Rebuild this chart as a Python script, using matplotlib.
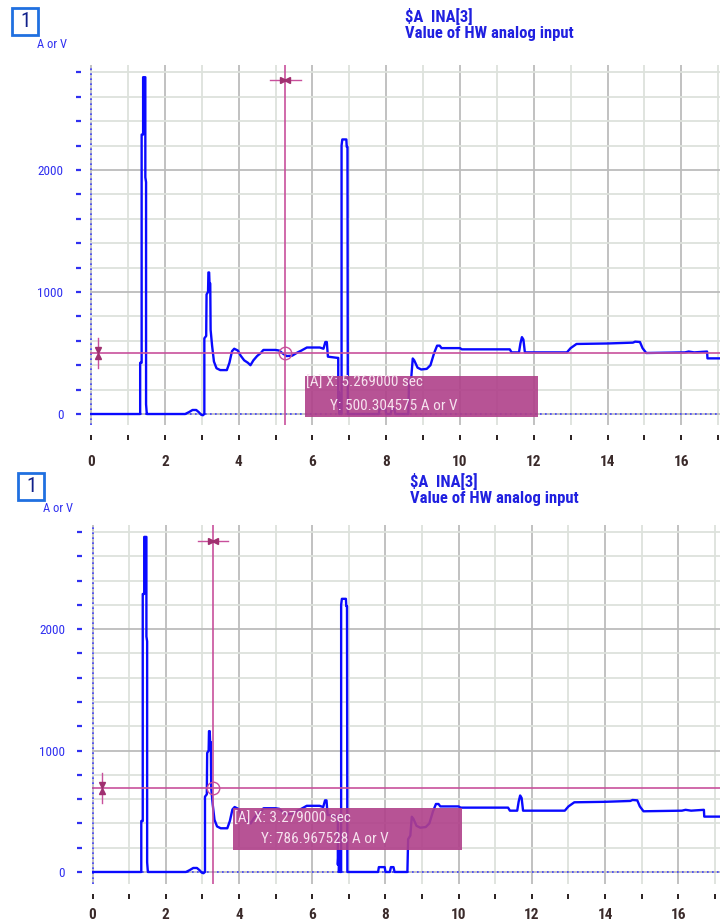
import matplotlib
matplotlib.use("Agg")
import matplotlib.pyplot as plt
from matplotlib import font_manager
from matplotlib.ticker import MultipleLocator
from matplotlib.patches import Rectangle

# pick a narrow face if the machine has one
installed = {f.name for f in font_manager.fontManager.ttflist}
narrow = [n for n in ["Liberation Sans Narrow", "DejaVu Sans Condensed", "Arial Narrow",
                      "Roboto Condensed", "Open Sans Condensed"] if n in installed]
NARROW = narrow[:1] + ["DejaVu Sans"]
plt.rcParams["font.family"] = NARROW
HAVE_NARROW = bool(narrow)

# signal INA[3], time in seconds, value in A or V
time_s = [0.0, 1.33, 1.33, 1.37, 1.37, 1.41, 1.41, 1.47, 1.47, 1.49, 1.49, 1.51, 1.52,
          2.55, 2.65, 2.75, 2.85, 2.92, 2.98, 3.03, 3.07, 3.07, 3.12, 3.13, 3.17, 3.18,
          3.20, 3.21, 3.23, 3.24, 3.28, 3.33, 3.40, 3.50, 3.68, 3.75, 3.82, 3.88, 3.98,
          4.05, 4.15, 4.25, 4.32, 4.40, 4.50, 4.60, 4.67, 5.00, 5.10, 5.20, 5.30, 5.45,
          5.60, 5.70, 5.85, 6.20, 6.30, 6.35, 6.39, 6.42, 6.68, 6.70, 6.70, 6.72, 6.73,
          6.75, 6.77, 6.79, 6.79, 6.81, 6.92, 6.93, 6.95, 6.96, 7.80, 7.82, 7.98, 8.00,
          8.12, 8.15, 8.22, 8.25, 8.60, 8.62, 8.68, 8.72, 8.76, 8.85, 8.95, 9.10, 9.20,
          9.30, 9.38, 9.45, 9.50, 10.00, 10.05, 11.35, 11.40, 11.60, 11.64, 11.68, 11.72,
          11.76, 12.90, 13.00, 13.16, 14.00, 14.69, 14.75, 14.88, 14.95, 15.05, 16.10,
          16.20, 16.35, 16.70, 16.71, 17.20]
value = [0, 0, 420, 420, 2290, 2290, 2760, 2760, 1940, 1900, 80, 0, 0,
         0, 15, 33, 33, 15, -5, -10, 0, 620, 640, 980, 1000, 1160,
         1160, 1070, 1070, 690, 560, 430, 375, 360, 360, 420, 515, 535, 520,
         480, 440, 420, 400, 440, 475, 500, 525, 525, 520, 495, 475, 478,
         505, 520, 545, 545, 535, 590, 590, 470, 460, 460, 60, 180, 0,
         150, 0, 0, 2200, 2250, 2250, 2190, 2190, 0, 0, 40, 40, 0,
         0, 40, 40, 0, 0, 270, 300, 455, 440, 380, 365, 370, 400,
         500, 560, 560, 540, 540, 530, 530, 505, 505, 580, 630, 610,
         505, 505, 540, 574, 578, 585, 593, 590, 540, 500, 505,
         512, 505, 512, 456, 456]

# cursor readouts of the two panels
cursor_x = [5.269, 3.279]
cursor_line_y = [500.3, 690.0]
cursor_y_text = ["500.304575", "786.967528"]

x_ticks = [0, 2, 4, 6, 8, 10, 12, 14, 16]
y_ticks = [0, 1000, 2000]

BLUE = "#0a0aff"
MAG = "#c8509c"
W, H = 720, 924


def fx(px):
    return px / W


def fy(py):
    return 1 - py / H


fig = plt.figure(figsize=(W / 100, H / 100), dpi=100)

# panel geometry in pixels: left, top, bottom; data limits; cursor box in data units
panels = [
    dict(left=90, top=65, bottom=425, xmax=17.05, ymin=-90, ymax=2860, xpad=11,
         box=(5.80, -25, 6.31, 336), t1=(5.83, 252), t2=(6.48, 68),
         lmark=0.19, tmark=2738, head=(12, 8), title=(405, 8)),
    dict(left=91.5, top=525, bottom=884, xmax=17.14, ymin=-99, ymax=2858, xpad=7,
         box=(3.83, 185, 6.27, 344), t1=(3.86, 440), t2=(4.60, 268),
         lmark=0.26, tmark=2727, head=(18, 473), title=(410, 473)),
]

title_size = 12 if HAVE_NARROW else 9.5
tip_size = 11 if HAVE_NARROW else 10

for i, p in enumerate(panels):
    ax = fig.add_axes([fx(p["left"]), fy(p["bottom"]), 1 - fx(p["left"]),
                       (p["bottom"] - p["top"]) / H])
    ax.set_xlim(-0.03, p["xmax"])
    ax.set_ylim(p["ymin"], p["ymax"])
    for s in ax.spines.values():
        s.set_visible(False)
    ax.spines["left"].set_position(("outward", 6.5))
    ax.spines["bottom"].set_position(("outward", 7))

    ax.xaxis.set_major_locator(MultipleLocator(2))
    ax.xaxis.set_minor_locator(MultipleLocator(1))
    ax.yaxis.set_major_locator(MultipleLocator(1000))
    ax.yaxis.set_minor_locator(MultipleLocator(200))
    ax.set_xticks(x_ticks)
    ax.set_xticklabels([str(v) for v in x_ticks])
    ax.set_yticks(y_ticks)
    ax.set_yticklabels([str(v) for v in y_ticks])
    ax.grid(which="major", color="#bcbcbc", lw=1.3)
    ax.grid(which="minor", color="#dde2dc", lw=1.3)
    ax.set_axisbelow(True)
    ax.tick_params(axis="x", which="both", length=3.6, width=1.4, color="#2a2020",
                   pad=p["xpad"], labelsize=11, labelcolor="#3a2a2a")
    ax.tick_params(axis="y", which="both", length=3.6, width=1.6, color="#3030f0",
                   pad=9, labelsize=9.5, labelcolor="#3030f0")
    for lab in ax.get_xticklabels():
        lab.set_fontweight("bold")

    # zero lines
    ax.axhline(0, color="#4040ff", lw=1.2, ls=(0, (1, 2)), zorder=1)
    ax.axvline(0, color="#4040ff", lw=1.2, ls=(0, (1, 2)), zorder=1)

    ax.plot(time_s, value, color=BLUE, lw=1.7, zorder=3)

    # cursor
    cx, cy = cursor_x[i], cursor_line_y[i]
    ax.axvline(cx, color=MAG, lw=1.2, zorder=4)
    ax.axhline(cy, color=MAG, lw=1.2, zorder=4)
    ax.plot(cx, cy, "o", mfc="none", mec=MAG, ms=9, mew=1, zorder=4)
    ax.plot([cx - 0.41, cx + 0.41], [p["tmark"]] * 2, color=MAG, lw=1, zorder=4)
    ax.plot([cx - 0.055], [p["tmark"]], marker=">", color="#a03070", ms=5, zorder=4)
    ax.plot([cx + 0.055], [p["tmark"]], marker="<", color="#a03070", ms=5, zorder=4)
    ax.plot([p["lmark"]] * 2, [cy - 123, cy + 123], color=MAG, lw=1, zorder=4)
    ax.plot([p["lmark"]], [cy + 26], marker="v", color="#a03070", ms=5, zorder=4)
    ax.plot([p["lmark"]], [cy - 26], marker="^", color="#a03070", ms=5, zorder=4)

    bx, by, bw, bh = p["box"]
    ax.add_patch(Rectangle((bx, by), bw, bh, facecolor="#b0408a", alpha=0.9,
                           edgecolor="none", zorder=10))
    ax.text(p["t1"][0], p["t1"][1], "[A] X: %.6f sec" % cx, color="#f6e2ee",
            fontsize=tip_size, va="center", ha="left", zorder=11)
    ax.text(p["t2"][0], p["t2"][1], "Y: %s A or V" % cursor_y_text[i], color="#f6e2ee",
            fontsize=tip_size, va="center", ha="left", zorder=11)

    # header
    hx, hy = p["head"]
    fig.add_artist(Rectangle((fx(hx), fy(hy + 27)), 26 / W, 27 / H, transform=fig.transFigure,
                             facecolor="white", edgecolor="#2070e0", lw=2))
    fig.text(fx(hx + 13), fy(hy + 13.5), "1", color="#10208a", fontsize=15,
             ha="center", va="center")
    fig.text(fx(hx + 40), fy(hy + 36), "A or V", color="#3030f0", fontsize=9,
             ha="center", va="center")
    tx, ty = p["title"]
    fig.text(fx(tx), fy(ty), "\\$A  INA[3]\nValue of HW analog input", color="#2020e0",
             fontsize=title_size, fontweight="bold", ha="left", va="top", linespacing=1.05)

fig.savefig("out.png", dpi=100)
